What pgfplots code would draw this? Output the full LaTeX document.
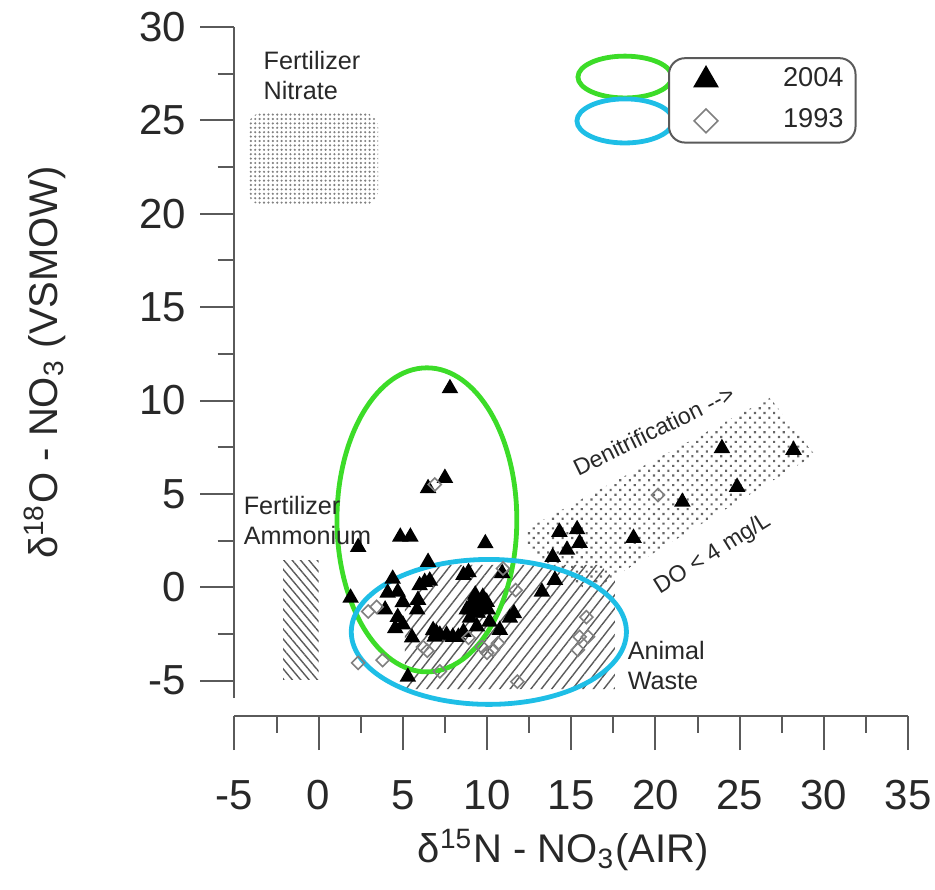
\documentclass[border=0pt]{standalone}
\usepackage{fontspec}
\setmainfont{Liberation Sans}
\usepackage{pgfplots}
\usepackage{pgfplotstable}
\pgfplotsset{compat=1.18}
\usetikzlibrary{patterns.meta}

\definecolor{ellgreen}{RGB}{60,220,40}
\definecolor{ellblue}{RGB}{30,190,230}
\definecolor{axgray}{RGB}{90,90,90}
\definecolor{txt}{RGB}{40,40,40}

\pgfplotsset{padmark/.style={legend image code/.code={%
    \path[draw=none, fill=none] (0pt,-4pt) rectangle (16pt,4pt);
    \draw[##1] plot coordinates {(8.25pt,0pt)};}}}

% 2004 samples (triangles)
\pgfplotstableread{
x y
7.8 10.65
7.5 5.85
6.5 5.3
4.85 2.7
5.45 2.7
2.35 2.15
9.9 2.35
1.9 -0.57
4.4 0.45
6.5 1.35
6.3 0.28
6.6 0.35
6.0 0.1
8.6 0.65
8.9 0.8
10.9 0.75
4.1 -0.3
4.7 -0.25
5.0 -0.8
5.9 -0.68
5.85 -1.2
3.95 -1.2
4.7 -1.6
5.0 -2.0
4.55 -2.2
5.55 -2.7
6.8 -2.3
7.0 -2.45
6.9 -2.65
7.2 -2.55
7.6 -2.55
7.97 -2.66
8.3 -2.66
8.6 -2.4
9.0 -1.2
9.2 -0.68
9.4 -1.37
9.75 -0.52
9.98 -0.79
9.16 -0.85
8.8 -1.2
9.45 -1.37
10.05 -1.2
8.99 -1.64
10.15 -1.85
9.4 -2.1
9.6 -1.0
9.3 -0.4
11.36 -1.64
11.6 -1.4
10.76 -2.29
5.3 -4.8
14.03 0.39
13.26 -0.25
13.9 1.62
14.75 2.0
15.5 2.37
14.3 2.96
15.35 3.1
18.7 2.64
21.6 4.57
23.95 7.44
24.85 5.37
28.2 7.35
}\tabA

% 1993 samples (diamonds)
\pgfplotstableread{
x y
6.9 5.5
2.95 -1.3
3.45 -1.05
2.35 -4.05
3.8 -3.9
6.2 -3.2
6.45 -3.4
7.2 -4.5
8.9 -2.7
10.0 -3.5
10.35 -3.35
10.65 -3.0
9.7 -3.2
10.95 1.0
11.7 -0.15
11.8 -5.05
15.9 -1.6
15.5 -2.65
16.0 -2.65
15.4 -3.35
20.15 4.94
}\tabB

\begin{document}
\begin{tikzpicture}
\begin{axis}[
    scale only axis,
    width=168.4pt, height=167.75pt,
    xmin=-5, xmax=35, ymin=-5.93, ymax=30,
    axis lines=left,
    axis line style={-, axgray, line width=0.5pt},
    axis x line shift=4.5pt,
    xtick={-5,0,...,35}, ytick={-5,0,...,30},
    minor tick num=1,
    tick align=outside,
    major tick length=8.5pt, minor tick length=4.2pt,
    tick style={axgray, line width=0.5pt},
    ticklabel style={font=\fontsize{10.5}{12}\selectfont, text=txt},
    xticklabel style={yshift=-4pt},
    /pgf/number format/assume math mode=true,
    every axis x label/.style={at={(axis description cs:0.5,0)}, anchor=center, yshift=-38pt, xshift=-2pt},
    every axis y label/.style={at={(axis description cs:0,0.5)}, xshift=-47.4pt, rotate=90, anchor=center},
    label style={font=\fontsize{10}{12}\selectfont, text=txt},
    xlabel={δ\textsuperscript{15}N - NO\textsubscript{3}(AIR)},
    ylabel={δ\textsuperscript{18}O - NO\textsubscript{3} (VSMOW)},
    clip=false,
    legend style={at={(rel axis cs:0.6437,0.955)}, anchor=north west,
        draw=axgray, rounded corners=4pt, line width=0.5pt,
        font=\fontsize{6.8}{7.5}\selectfont, text=txt,
        row sep=0pt, column sep=9.5pt, inner xsep=1pt, inner ysep=0.3pt},
]
\coordinate (ll) at (rel axis cs:0,0);
\coordinate (ur) at (rel axis cs:1,1);

% source regions
\fill[pattern={Dots[distance=1.1pt, radius=0.3pt]}, pattern color=gray, rounded corners=3.5pt]
    (axis cs:-4.2,20.47) rectangle (axis cs:3.53,25.4);
\fill[pattern={Lines[angle=130, distance=1.6pt, line width=0.35pt]}, pattern color=axgray]
    (axis cs:-2.1,-4.95) rectangle (axis cs:0,1.45);
\fill[pattern={Dots[distance=1.7pt, radius=0.38pt, angle=45]}, pattern color=gray!80!black]
    (axis cs:12.43,3.17) -- (axis cs:26.8,10.14) -- (axis cs:29.47,7.09)
    -- (axis cs:16.1,-0.25) -- (axis cs:12.43,2.0) -- cycle;
\fill[pattern={Lines[angle=52, distance=2.05pt, line width=0.35pt]}, pattern color=axgray]
    (axis cs:5.12,-5.45) -- (axis cs:5.12,-1.2) -- (axis cs:7.2,1.2)
    -- (axis cs:16.7,1.2) -- (axis cs:17.6,0.4) -- (axis cs:17.6,-5.45) -- cycle;

% group ellipses
\draw[ellgreen, line width=1.2pt] (axis cs:6.43,3.61) ellipse [x radius=5.34, y radius=8.14];
\draw[ellblue, line width=1.2pt] (axis cs:10.11,-2.39) ellipse [x radius=8.17, y radius=3.88];
\draw[ellgreen, line width=1.2pt] (axis cs:18.19,27.32) ellipse [x radius=2.79, y radius=1.12];
\draw[ellblue, line width=1.2pt] (axis cs:18.19,24.97) ellipse [x radius=2.85, y radius=1.18];

\addplot[only marks, mark=triangle*, mark size=2pt, black, forget plot] table {\tabA};
\addplot[only marks, mark=square, mark size=1.15pt, mark options={rotate=45, draw=gray, line width=0.4pt}, forget plot] table {\tabB};

\addlegendimage{only marks, mark=triangle*, mark size=3.2pt, black, padmark}
\addlegendentry{2004}
\addlegendimage{only marks, mark=square, mark size=2.1pt, mark options={rotate=45, draw=gray, line width=0.4pt}, padmark}
\addlegendentry{1993}

% labels
\begin{scope}[every node/.style={text=txt, inner sep=0pt, align=left, font=\fontsize{6.3}{7.5}\selectfont}]
\node[anchor=north west] at (axis cs:-3.31,28.77) {Fertilizer\\Nitrate};
\node[anchor=north west] at (axis cs:-4.49,4.94) {Fertilizer\\Ammonium};
\node[anchor=north west] at (axis cs:18.31,-2.82) {Animal\\Waste};
\node[rotate=26, font=\fontsize{5.8}{7}\selectfont] at (axis cs:19.9,8.4) {Denitrification -{}-{}>};
\node[rotate=32, font=\fontsize{5.8}{7}\selectfont] at (axis cs:23.4,1.75) {DO < 4 mg/L};
\end{scope}
\end{axis}
\pgfresetboundingbox
\path ([xshift=-58.6pt,yshift=-47.75pt]ll) rectangle ([xshift=6.75pt,yshift=6.75pt]ur);
\end{tikzpicture}
\end{document}
